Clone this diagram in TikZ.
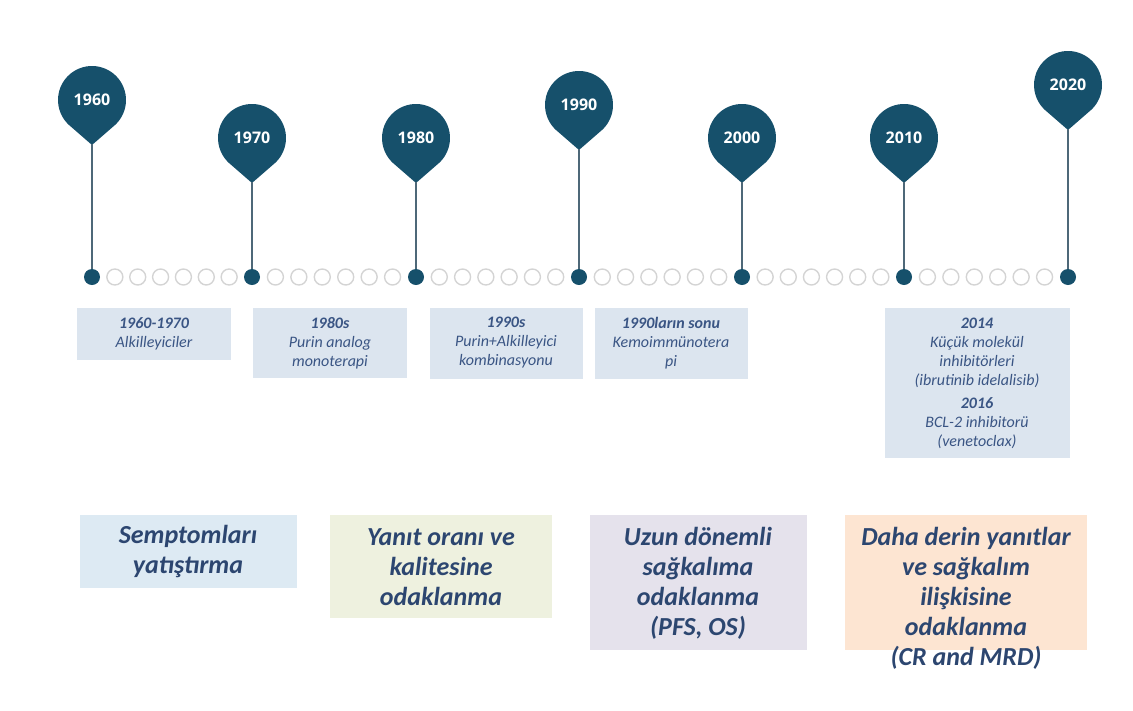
\documentclass[tikz,border=0pt]{standalone}
\usepackage{fontspec}
\setmainfont{Carlito}
\newfontfamily\pinfont{Open Sans}
\usetikzlibrary{positioning}
\definecolor{pinblue}{HTML}{16506B}
\definecolor{stemgray}{HTML}{4E6878}
\definecolor{ringgray}{HTML}{D4D4D4}
\definecolor{eragray}{HTML}{DCE5EF}
\definecolor{eratext}{HTML}{3A5584}
\definecolor{goaltext}{HTML}{2C4670}
\definecolor{fillA}{HTML}{DDEAF3}
\definecolor{fillB}{HTML}{EEF1DF}
\definecolor{fillC}{HTML}{E5E2EC}
\definecolor{fillD}{HTML}{FDE5D2}
\tikzstyle{year} = [text=white, font=\pinfont\bfseries\fontsize{16}{16}\selectfont]
\tikzstyle{dot} = [circle, fill=pinblue, minimum size=16, inner sep=0pt]
\tikzstyle{ring} = [circle, draw=ringgray, line width=1.4pt, minimum size=16, inner sep=0pt]
\tikzstyle{stem} = [stemgray, line width=2pt]
\tikzstyle{era} = [rectangle, fill=eragray, text=eratext, align=center, inner sep=2pt, font=\itshape\fontsize{16}{19}\selectfont]
\tikzstyle{goal} = [text=goaltext, align=center, font=\bfseries\itshape\fontsize{26}{30}\selectfont]

\begin{document}
\begin{tikzpicture}[x=1pt, y=-1pt]
			\useasboundingbox (0,0) rectangle (1133,710);
			% Pins
			\foreach \yr/\px/\py in {1960/92/100, 1970/252/138, 1980/416/138, 1990/579/105, 2000/742/138, 2010/904/138, 2020/1068/85} {
				\fill[pinblue] (\px,\py+45) -- ([shift={(\px,\py)}]52:34) arc[start angle=52, end angle=-232, radius=34] -- cycle;
				\node (p\yr) [year] at (\px,\py) {\yr};
				\coordinate (t\yr) at (\px,\py+44);
				\node (d\yr) [dot] at (\px,277) {};
				\draw [stem] (t\yr) -- (d\yr.north);
			}
			% Rings
			\foreach \xa/\xb in {92/252, 252/416, 416/579, 579/742, 742/904, 904/1068} {
				\foreach \i in {1,...,6} {
					\node (r\xa-\i) [ring] at ({\xa+\i*(\xb-\xa)/7},277) {};
				}
			}
			% Eras
			\node (era1) [era, minimum width=154, minimum height=52] at (154,334) {\textbf{1960-1970}\\Alkilleyiciler};
			\node (era2) [era, minimum width=154, minimum height=70] at (330,343) {\textbf{1980s}\\Purin analog\\monoterapi};
			\node (era3) [era, minimum width=153, minimum height=71] at (506,343) {\textbf{1990s}\\Purin+Alkilleyici\\kombinasyonu};
			\node (era4) [era, minimum width=153, minimum height=71] at (671,343) {\textbf{1990ların sonu}\\Kemoimmünotera\\pi};
			\node (era5) [era, minimum width=185, minimum height=90] at (977,353) {\textbf{2014}\\Küçük molekül\\inhibitörleri\\(ibrutinib idelalisib)};
			\node (era6) [era, minimum width=185, minimum height=70, below=10 of era5] {\textbf{2016}\\BCL-2 inhibitorü\\(venetoclax)};
			% Goals
			\fill[fillA] (80,515) rectangle (297,588);
			\fill[fillB] (330,515) rectangle (552,618);
			\fill[fillC] (590,515) rectangle (807,650);
			\fill[fillD] (845,515) rectangle (1087,650);
			\node (goalA) [goal] at (188,552) {Semptomları\\yatıştırma};
			\node (goalB) [goal] at (441,567) {Yanıt oranı ve\\kalitesine\\odaklanma};
			\node (goalC) [goal] at (698,583) {Uzun dönemli\\sağkalıma\\odaklanma\\(PFS, OS)};
			\node (goalD) [goal] at (966,598) {Daha derin yanıtlar\\ve sağkalım\\ilişkisine\\odaklanma\\(CR and MRD)};
		\end{tikzpicture}
\end{document}
